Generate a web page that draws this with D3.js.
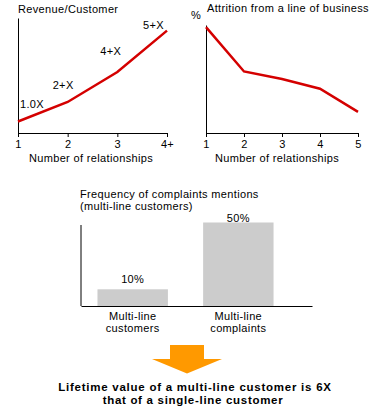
<!DOCTYPE html>
<html>
<head>
<meta charset="utf-8">
<script src="https://cdn.jsdelivr.net/npm/d3@7"></script>
<style>
  body { margin: 0; background: #fff; }
  svg { display: block; font-family: "Liberation Sans", Arial, sans-serif; letter-spacing: 0.35px; }
</style>
</head>
<body>
<svg id="chart" width="385" height="410"></svg>
<script>
// revenue per customer by number of relationships
const revCats = ["1", "2", "3", "4+"];
const revValues = [1.0, 2.7, 5.3, 8.9];
const revLabels = ["1.0X", "2+X", "4+X", "5+X"];

// attrition by number of relationships
const attrCats = [1, 2, 3, 4, 5];
const attrValues = [98, 57, 50, 41, 19.5];

// complaint mentions
const barCats = [["Multi-line", "customers"], ["Multi-line", "complaints"]];
const barValues = [10, 50];

const svg = d3.select("#chart");
const red = "#d40000";

// ---- left chart
let x1 = d3.scalePoint().domain(revCats).range([18, 167]);
let y1 = d3.scaleLinear().domain([0, 10]).range([133, 18]);

svg.append("text").attr("x", 18).attr("y", 13)
    .attr("font-size", 11).text("Revenue/Customer");

svg.append("g")
    .attr("transform", "translate(0,133)")
    .call(d3.axisBottom(x1).tickSize(4).tickSizeOuter(0))
    .call(g => g.selectAll("text").attr("font-size", 11).attr("fill", "#000").attr("font-family", null));

svg.append("g")
    .attr("transform", "translate(18,0)")
    .call(d3.axisLeft(y1).tickValues([]).tickSizeOuter(0));

svg.append("path")
    .datum(revValues)
    .attr("fill", "none")
    .attr("stroke", red)
    .attr("stroke-width", 2.5)
    .attr("d", d3.line().x((d, i) => x1(revCats[i])).y(d => y1(d)));

const labelDx = [2, -15, -17, -24];
const labelDy = [-14, -13, -17, -2];
svg.selectAll(".revlab")
    .data(revValues)
    .join("text")
    .attr("class", "revlab")
    .attr("x", (d, i) => x1(revCats[i]) + labelDx[i])
    .attr("y", (d, i) => y1(d) + labelDy[i])
    .attr("font-size", 11)
    .text((d, i) => revLabels[i]);

svg.append("text").attr("x", 91).attr("y", 162)
    .attr("text-anchor", "middle").attr("font-size", 11).text("Number of relationships");

// ---- right chart
let x2 = d3.scaleLinear().domain([1, 5]).range([206, 358]);
let y2 = d3.scaleLinear().domain([0, 100]).range([133, 25]);

svg.append("text").attr("x", 207).attr("y", 12)
    .attr("font-size", 11).text("Attrition from a line of business");
svg.append("text").attr("x", 191).attr("y", 19)
    .attr("font-size", 11).text("%");

svg.append("g")
    .attr("transform", "translate(0,133)")
    .call(d3.axisBottom(x2).tickValues(attrCats).tickFormat(d3.format("d")).tickSize(4).tickSizeOuter(0))
    .call(g => g.selectAll("text").attr("font-size", 11).attr("fill", "#000").attr("font-family", null));

svg.append("g")
    .attr("transform", "translate(206,0)")
    .call(d3.axisLeft(y2).tickValues([]).tickSizeOuter(0));

svg.append("path")
    .datum(attrValues)
    .attr("fill", "none")
    .attr("stroke", red)
    .attr("stroke-width", 2.5)
    .attr("d", d3.line().x((d, i) => x2(attrCats[i])).y(d => y2(d)));

svg.append("text").attr("x", 277).attr("y", 162)
    .attr("text-anchor", "middle").attr("font-size", 11).text("Number of relationships");

// ---- bar chart
let xb = d3.scaleBand().domain(d3.range(barCats.length))
    .range([81, 312]).paddingInner(1 / 3).paddingOuter(0.26).align(0.3);
let yb = d3.scaleLinear().domain([0, 50]).range([306, 222.5]);

svg.append("text").attr("x", 80).attr("y", 198)
    .attr("font-size", 11).text("Frequency of complaints mentions");
svg.append("text").attr("x", 80).attr("y", 210)
    .attr("font-size", 11).text("(multi-line customers)");

svg.selectAll(".bar")
    .data(barValues)
    .join("rect")
    .attr("class", "bar")
    .attr("x", (d, i) => xb(i))
    .attr("y", d => yb(d))
    .attr("width", xb.bandwidth())
    .attr("height", d => yb(0) - yb(d))
    .attr("fill", "#cccccc");

const valGap = [6, 1];
svg.selectAll(".barlab")
    .data(barValues)
    .join("text")
    .attr("class", "barlab")
    .attr("x", (d, i) => xb(i) + xb.bandwidth() / 2)
    .attr("y", (d, i) => yb(d) - valGap[i])
    .attr("text-anchor", "middle")
    .attr("font-size", 11)
    .text(d => d + "%");

svg.append("g")
    .attr("transform", "translate(0,306)")
    .call(d3.axisBottom(xb).tickValues([]).tickSizeOuter(0));
svg.append("g")
    .attr("transform", "translate(81,0)")
    .call(d3.axisLeft(yb).tickValues([]).tickSizeOuter(0))
    .call(g => g.select(".domain").attr("d", "M0," + yb(48.5) + "V306"));

svg.selectAll(".cat")
    .data(barCats)
    .join("text")
    .attr("class", "cat")
    .attr("text-anchor", "middle")
    .attr("font-size", 11)
    .attr("x", (d, i) => xb(i) + xb.bandwidth() / 2)
    .attr("y", 320)
    .selectAll("tspan")
    .data(d => d)
    .join("tspan")
    .attr("x", function() { return this.parentNode.getAttribute("x"); })
    .attr("dy", (d, i) => i ? 12 : 0)
    .text(d => d);

// ---- arrow and conclusion
const arrow = d3.path();
arrow.moveTo(170, 345);
arrow.lineTo(204, 345);
arrow.lineTo(204, 359);
arrow.lineTo(222, 359);
arrow.lineTo(187, 373.5);
arrow.lineTo(152, 359);
arrow.lineTo(170, 359);
arrow.closePath();
svg.append("path").attr("d", arrow.toString()).attr("fill", "#ff9900");

svg.append("text").attr("x", 195).attr("y", 391)
    .attr("text-anchor", "middle").attr("font-size", 11.5).attr("font-weight", "bold")
    .attr("letter-spacing", 0.75)
    .text("Lifetime value of a multi-line customer is 6X");
svg.append("text").attr("x", 193).attr("y", 404)
    .attr("text-anchor", "middle").attr("font-size", 11.5).attr("font-weight", "bold")
    .attr("letter-spacing", 0.7)
    .text("that of a single-line customer");
</script>
</body>
</html>
